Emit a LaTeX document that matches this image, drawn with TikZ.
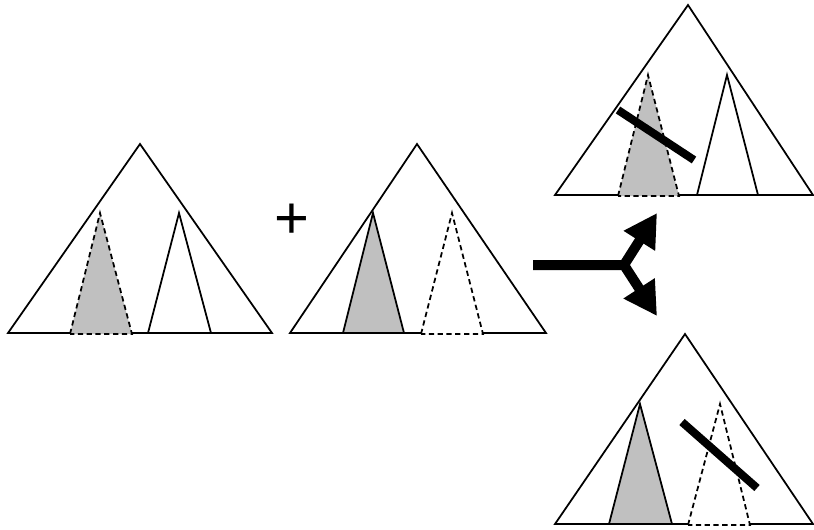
\documentclass[tikz,border=0pt]{standalone}
\usepackage{fontspec}
\usepackage{tikz}
\usetikzlibrary{arrows.meta}
\newfontfamily\plusfont{Liberation Sans}
\definecolor{subgray}{RGB}{192,192,192}

\begin{document}
\begin{tikzpicture}[x=0.02cm,y=-0.02cm,
    tree/.style={line width=1pt, line join=miter},
    sub/.style={line width=1pt, fill=white},
    shaded/.style={sub, fill=subgray},
    hidden/.style={dash pattern=on 3pt off 2pt},
    cut/.style={line width=4.6pt},
    fork/.style={line width=5.7pt, line join=miter, -{Triangle[length=0.66cm,width=0.7cm]}}]
    \useasboundingbox (0,0) rectangle (814,529);
    \draw[tree] (8,333) -- (140,144) -- (272,333) -- cycle;
    \draw[shaded,hidden] (70,334) -- (100,213) -- (132,334) -- cycle;
    \draw[sub] (148,333) -- (179,213) -- (211,333) -- cycle;
    \node[font=\plusfont\fontsize{34}{36}\selectfont, inner sep=0pt] (plus) at (292,221) {+};
    \draw[tree] (290,333) -- (417,144) -- (546,333) -- cycle;
    \draw[shaded] (343,333) -- (373,213) -- (404,333) -- cycle;
    \draw[sub,hidden] (421,334) -- (452,213) -- (483,334) -- cycle;
    \coordinate (start) at (533,265);
    \coordinate (split) at (624,265);
    \coordinate (up) at (657,213);
    \coordinate (down) at (657,316);
    \draw[fork] (start) -- (split) -- (up);
    \draw[fork] (split) -- (down);
    \draw[tree] (555,195) -- (688,5) -- (813,195) -- cycle;
    \draw[shaded,hidden] (618,196) -- (648,75) -- (679,196) -- cycle;
    \draw[sub] (697,195) -- (727,75) -- (758,195) -- cycle;
    \draw[cut] (618,110) -- (694,160);
    \draw[tree] (555,524) -- (685,334) -- (813,524) -- cycle;
    \draw[shaded] (609,524) -- (640,404) -- (672,524) -- cycle;
    \draw[sub,hidden] (688,525) -- (720,404) -- (750,525) -- cycle;
    \draw[cut] (682,422) -- (757,488);
\end{tikzpicture}
\end{document}
